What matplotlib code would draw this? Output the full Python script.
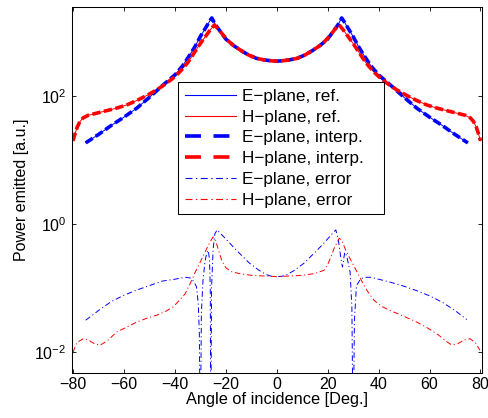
import matplotlib
matplotlib.use("Agg")
import matplotlib.pyplot as plt
from matplotlib.lines import Line2D

plt.rcParams['font.family'] = ['Liberation Sans', 'DejaVu Sans']
plt.rcParams['mathtext.fontset'] = 'custom'
plt.rcParams['mathtext.rm'] = 'Liberation Sans'
plt.rcParams['mathtext.it'] = 'Liberation Sans:italic'
plt.rcParams['lines.scale_dashes'] = False

# ---------------- data ----------------
e_angle = [-75, -70, -65, -60, -55, -50, -45, -40, -37, -34, -32, -30, -28, -26.5, -25.5,
           -24, -22, -20, -17, -14, -11, -8, -5, -2, 0,
           2, 5, 8, 11, 14, 17, 20, 22, 24, 25.5, 26.5, 28, 30, 32, 34, 37, 40, 45, 50,
           55, 60, 65, 70, 75]
e_power = [18.6, 25.1, 34.7, 46.8, 64.6, 95.5, 144.5, 213.8, 295.1, 446.7, 602.6, 851.1, 1148, 1445, 1660,
           1288, 1000, 776.2, 616.6, 512.9, 436.5, 389.0, 367.3, 354.8, 350.8,
           354.8, 367.3, 389.0, 436.5, 512.9, 616.6, 776.2, 1000, 1288, 1660, 1445, 1148, 851.1, 602.6,
           446.7, 295.1, 213.8, 144.5, 95.5, 64.6, 46.8, 34.7, 25.1, 18.6]

h_angle = [-80, -79.3, -78.3, -77.3, -76, -74, -71, -67, -63, -59, -55, -51, -47, -44, -41, -38,
           -35, -32, -30, -28, -26, -24.5, -23, -21, -19, -17, -14, -11, -8, -5, -2, 0,
           2, 5, 8, 11, 14, 17, 19, 21, 23, 24.5, 26, 28, 30, 32, 35, 38, 41, 44, 47, 51, 55,
           59, 63, 67, 71, 74, 76, 77.3, 78.3, 79.3, 80]
h_power = [20.0, 25.1, 33.1, 39.8, 45.7, 50.1, 53.7, 58.9, 64.6, 72.4, 85.1, 102.3, 125.9, 151.4, 186.2, 239.9,
           331.1, 501.2, 660.7, 851.1, 1096, 1288, 1122, 891.3, 724.4, 616.6, 512.9, 436.5, 389.0, 367.3, 354.8, 350.8,
           354.8, 367.3, 389.0, 436.5, 512.9, 616.6, 724.4, 891.3, 1122, 1288, 1096, 851.1, 660.7, 501.2, 331.1,
           239.9, 186.2, 151.4, 125.9, 102.3, 85.1, 72.4, 64.6, 58.9, 53.7, 50.1, 45.7, 39.8, 33.1, 25.1, 20.0]

e_err_angle = [-75, -70, -65, -60, -55, -50, -45, -40, -36, -34, -32.5, -31.5, -30.8, -30.4, -30.0, -29.6,
               -29.0, -28.2, -27.5, -26.9, -26.4, -26.1, -25.9, -25.6, -25.0, -24.3, -23.4, -22, -20, -17,
               -14, -10.7, -7, -4, -2, 0,
               2, 4, 7, 10.7, 14, 17, 20, 22, 23.2, 24.2, 25.2, 25.8, 26.7, 27.5, 28.8, 29.5, 30.0, 30.5,
               31.3, 33, 35, 37, 40, 44, 50, 55, 60, 65, 70, 74.6]
e_err = [0.0316, 0.0447, 0.0617, 0.0776, 0.0933, 0.1096, 0.1288, 0.1380, 0.1479, 0.1445, 0.1259, 0.1047,
         0.0562, 0.0200, 0.000316, 0.0398, 0.1259, 0.2570, 0.3548, 0.3890, 0.2818, 0.1000, 0.000316, 0.1000,
         0.3981, 0.7079, 0.8128, 0.7079, 0.5888, 0.4365, 0.3311, 0.2455, 0.1905, 0.1622, 0.1531, 0.1514,
         0.1531, 0.1622, 0.1905, 0.2455, 0.3311, 0.4365, 0.5888, 0.7244, 0.8128, 0.5623, 0.2884, 0.2138,
         0.3631, 0.3162, 0.1778, 0.0501, 0.000316, 0.0316, 0.1096, 0.1413, 0.1479, 0.1479, 0.1380, 0.1259,
         0.1072, 0.0912, 0.0759, 0.0603, 0.0447, 0.0324]

h_err_angle = [-80, -78.5, -76, -74, -71.5, -69.3, -66.5, -62.7, -59, -55, -51, -47, -43.5, -40.6, -38,
               -36, -34, -32, -30, -28.2, -26.5, -25, -24, -23, -21.5, -20, -18, -15, -10, -5, 0,
               5, 10, 15, 18.6, 20, 21.2, 22.5, 23.8, 24.5, 25.5, 27.1, 29.3, 31.6, 33.5, 35.5, 38.2,
               41, 44, 50.5, 55, 59.6, 63.5, 66.5, 68.8, 71, 73.5, 75.9, 78, 79.8]
h_err = [0.0100, 0.0141, 0.0162, 0.0155, 0.0135, 0.0129, 0.0151, 0.0209, 0.0245, 0.0295, 0.0339, 0.0380,
         0.0437, 0.0513, 0.0661, 0.0813, 0.1175, 0.1778, 0.2570, 0.3631, 0.5012, 0.6310, 0.5495, 0.4074,
         0.2630, 0.2089, 0.1820, 0.1698, 0.1585, 0.1549, 0.1514,
         0.1549, 0.1585, 0.1698, 0.1905, 0.2344, 0.3020, 0.4169, 0.5248, 0.6026, 0.5623, 0.3890, 0.2630,
         0.1778, 0.1259, 0.0912, 0.0646, 0.0525, 0.0457, 0.0355, 0.0295, 0.0234, 0.0186, 0.0148, 0.0129,
         0.0135, 0.0155, 0.0162, 0.0141, 0.0107]

x_ticks = [-80, -60, -40, -20, 0, 20, 40, 60, 80]
y_ticks = [1e-2, 1e0, 1e2]
labels = ["E\u2212plane, ref.", "H\u2212plane, ref.", "E\u2212plane, interp.",
          "H\u2212plane, interp.", "E\u2212plane, error", "H\u2212plane, error"]

# ---------------- plot ----------------
fig = plt.figure(figsize=(4.89, 4.18), dpi=100)
ax = fig.add_axes([0.1472, 0.1084, 0.8375, 0.8741])

BLUE = (0, 0, 1)
RED = (1, 0, 0)
dash_plot = (0, (6.0, 2.5))
dashdot = (0, (4.0, 2.0, 0.8, 2.0))

ax.plot(e_angle, e_power, color=BLUE, lw=0.7)
ax.plot(h_angle, h_power, color=RED, lw=0.7)
ax.plot(e_angle, e_power, color=BLUE, lw=2.6, linestyle=dash_plot)
ax.plot(h_angle, h_power, color=RED, lw=2.6, linestyle=dash_plot)
ax.plot(e_err_angle, e_err, color=BLUE, lw=0.7, linestyle=dashdot)
ax.plot(h_err_angle, h_err, color=RED, lw=0.7, linestyle=dashdot)

ax.set_yscale('log')
ax.set_xlim(-80.4, 80.4)
ax.set_ylim(10 ** -2.32, 10 ** 3.386)
ax.set_xticks(x_ticks)
ax.set_xticklabels([str(t).replace('-', '\u2212') for t in x_ticks])
ax.set_yticks(y_ticks)
ax.yaxis.set_minor_locator(matplotlib.ticker.NullLocator())
ax.tick_params(which='both', direction='in', top=True, right=True, length=3.2, width=0.6,
               labelsize=11.5, colors='black')
ax.tick_params(axis='x', pad=3)
ax.tick_params(axis='y', pad=4)
for s in ax.spines.values():
    s.set_linewidth(0.75)

ax.set_xlabel("Angle of incidence [Deg.]", fontsize=11.8, labelpad=0)
ax.set_ylabel("Power emitted [a.u.]", fontsize=11.5, labelpad=4)

dash_leg = (0, (11.5, 9.0))
dashdot_leg = (0, (5.0, 2.5, 1.0, 2.5))
handles = [
    Line2D([], [], color=BLUE, lw=0.8),
    Line2D([], [], color=RED, lw=0.8),
    Line2D([], [], color=BLUE, lw=2.6, linestyle=dash_leg),
    Line2D([], [], color=RED, lw=2.6, linestyle=dash_leg),
    Line2D([], [], color=BLUE, lw=0.8, linestyle=dashdot_leg),
    Line2D([], [], color=RED, lw=0.8, linestyle=dashdot_leg),
]
leg_w = 206 / 409.5
leg_h = 133 / 365.4
leg_top = 0.7947
leg = ax.legend(handles, labels, loc='upper left',
                bbox_to_anchor=(0.2596, leg_top - leg_h, leg_w, leg_h), mode='expand',
                borderaxespad=0, fontsize=12.3, handlelength=3.0, handletextpad=0.32,
                labelspacing=0.34, borderpad=0.38, fancybox=False, framealpha=1,
                edgecolor='black')
leg.get_frame().set_linewidth(0.75)

fig.savefig("out.png", dpi=100)
